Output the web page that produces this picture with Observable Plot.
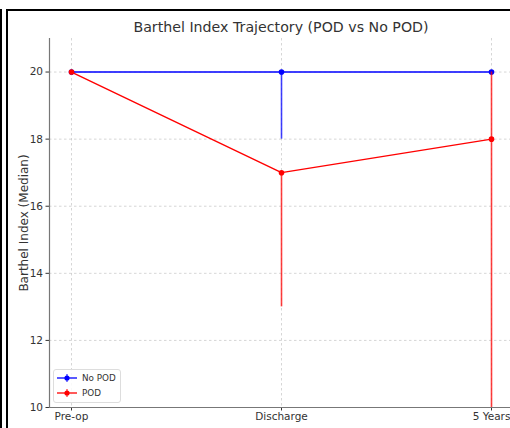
<!DOCTYPE html>
<html>
<head>
<meta charset="utf-8">
<script src="https://cdn.jsdelivr.net/npm/d3@7"></script>
<script src="https://cdn.jsdelivr.net/npm/@observablehq/plot@0.6"></script>
<style>
  html, body { margin: 0; padding: 0; background: #fff; overflow: hidden; }
  #wrap { position: relative; width: 510px; height: 428px; overflow: hidden; font-family: "DejaVu Sans", sans-serif; }
  #chart svg { max-width: none !important; }
  #title { position: absolute; left: 0; width: 562px; top: 19px; text-align: center; font-size: 14.2px; color: #333; }
  .bar { position: absolute; background: #000; }
  #legend { position: absolute; left: 53px; top: 369px; width: 66px; height: 32px; border: 1px solid #ddd; border-radius: 3px; background: rgba(255,255,255,0.85); font-size: 8.8px; color: #333; }
  .entry { position: absolute; left: 3px; display: flex; align-items: center; gap: 5px; }
</style>
</head>
<body>
<div id="wrap">
  <div id="chart"></div>
  <div id="title">Barthel Index Trajectory (POD vs No POD)</div>
  <div id="legend"></div>
  <div class="bar" style="left:0;top:9px;width:2px;height:419px"></div>
  <div class="bar" style="left:6px;top:9px;width:2px;height:419px"></div>
  <div class="bar" style="left:6px;top:9px;width:504px;height:2px"></div>
</div>
<script>
const categories = ["Pre-op", "Discharge", "5 Years"];
const seriesNames = ["No POD", "POD"];
const seriesColors = ["#0000ff", "#ff0000"];
const noPodMedian = [20, 20, 20];
const noPodLow = [20, 18, 20];
const noPodHigh = [20, 20, 20];
const podMedian = [20, 17, 18];
const podLow = [20, 13, 10];
const podHigh = [20, 17, 20];
const yTicks = [10, 12, 14, 16, 18, 20];

const rows = [];
categories.forEach((c, i) => {
  rows.push({series: "No POD", t: c, v: noPodMedian[i], lo: noPodLow[i], hi: noPodHigh[i]});
});
categories.forEach((c, i) => {
  rows.push({series: "POD", t: c, v: podMedian[i], lo: podLow[i], hi: podHigh[i]});
});

const marks2 = [];
seriesNames.forEach(s => {
  const d = rows.filter(r => r.series === s);
  marks2.push(Plot.line(d, {x: "t", y: "v", stroke: "series", strokeWidth: 1.4}));
  marks2.push(Plot.ruleX(d, {x: "t", y1: "lo", y2: "hi", stroke: "series", strokeWidth: 1.6, strokeOpacity: 0.75}));
  marks2.push(Plot.dot(d, {x: "t", y: "v", fill: "series", r: 2.8}));
});

const plot = Plot.plot({
  width: 520,
  height: 428,
  marginTop: 38,
  marginBottom: 21,
  marginLeft: 49,
  marginRight: 8,
  style: {fontFamily: "DejaVu Sans, sans-serif", background: "transparent", maxWidth: "none"},
  x: {type: "point", domain: categories, padding: 0.1, axis: null},
  y: {domain: [10, 21], axis: null},
  color: {domain: seriesNames, range: seriesColors},
  marks: [
    Plot.gridX(categories, {stroke: "#bbb", strokeOpacity: 0.6, strokeDasharray: "2.5,2.5"}),
    Plot.gridY(yTicks, {stroke: "#bbb", strokeOpacity: 0.6, strokeDasharray: "2.5,2.5"}),
    Plot.axisY({ticks: yTicks, tickSize: 3.5, tickPadding: 3, fontSize: 10.5, color: "#333", label: null}),
    Plot.axisY({ticks: [], tickSize: 0, fontSize: 12, color: "#333",
      label: "Barthel Index (Median)", labelAnchor: "center", labelArrow: "none", labelOffset: 30}),
    Plot.axisX(categories, {tickSize: 3.5, tickPadding: 1.5, fontSize: 10.5, color: "#333", label: null}),
    Plot.frame({anchor: "left", stroke: "#777", strokeWidth: 1.2}),
    Plot.frame({anchor: "bottom", stroke: "#777", strokeWidth: 1.2}),
    ...marks2
  ]
});
document.getElementById("chart").appendChild(plot);

// legend
const lg = document.getElementById("legend");
seriesNames.forEach((s, i) => {
  const e = document.createElement("div");
  e.className = "entry";
  e.style.top = (3 + i * 14.5) + "px";
  e.innerHTML = `<svg width="20" height="10"><line x1="0" y1="5" x2="20" y2="5" stroke="${seriesColors[i]}" stroke-width="1.3"/><line x1="10" y1="1" x2="10" y2="9" stroke="${seriesColors[i]}" stroke-width="1.3" stroke-opacity="0.75"/><circle cx="10" cy="5" r="2.6" fill="${seriesColors[i]}"/></svg><span>${s}</span>`;
  lg.appendChild(e);
});
</script>
</body>
</html>
